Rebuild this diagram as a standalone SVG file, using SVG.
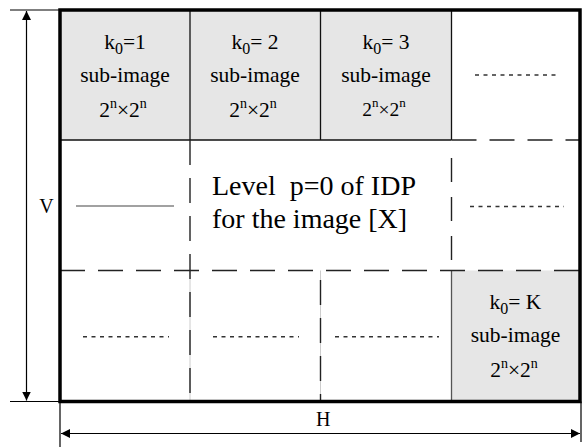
<svg xmlns="http://www.w3.org/2000/svg" width="586" height="447" viewBox="0 0 586 447">
<defs>
<marker id="ah" viewBox="0 0 10 10" refX="10" refY="5" markerWidth="9" markerHeight="9" markerUnits="userSpaceOnUse" orient="auto-start-reverse"><path d="M0,0 L10,5 L0,10 z" fill="#000"/></marker>
</defs>
<style>
.t{font-family:"Liberation Serif","Times New Roman",serif;fill:#000}
.c{font-size:21.5px;text-anchor:middle}
.sub{font-size:16px}
.sup{font-size:14px}
.grey{fill:#e6e6e6;stroke:none}
.solid{stroke:#111;stroke-width:1.3;fill:none}
.dash{stroke:#222;stroke-width:1.4;stroke-dasharray:25 13;fill:none}
.dot{stroke:#333;stroke-width:1.5;stroke-dasharray:4 4.5;fill:none}
.dim{stroke:#000;stroke-width:1.2;fill:none}
</style>
<rect width="586" height="447" fill="#fff"/>
<g id="cell-k1">
<rect class="grey" x="60" y="10" width="130" height="130"/>
<text class="t c" x="125" y="48.5">k<tspan class="sub" dy="5">0</tspan><tspan dy="-5">=1</tspan></text>
<text class="t c" x="125" y="81.7">sub-image</text>
<text class="t c" x="123" y="116.5">2<tspan class="sup" dy="-9">n</tspan><tspan dy="9">×2</tspan><tspan class="sup" dy="-9">n</tspan></text>
</g>
<g id="cell-k2">
<rect class="grey" x="190" y="10" width="130.5" height="130"/>
<text class="t c" x="255" y="48.5">k<tspan class="sub" dy="5">0</tspan><tspan dy="-5">= 2</tspan></text>
<text class="t c" x="255" y="81.7">sub-image</text>
<text class="t c" x="253" y="116.5">2<tspan class="sup" dy="-9">n</tspan><tspan dy="9">×2</tspan><tspan class="sup" dy="-9">n</tspan></text>
</g>
<g id="cell-k3">
<rect class="grey" x="320.5" y="10" width="131" height="130"/>
<text class="t c" x="386" y="48.5">k<tspan class="sub" dy="5">0</tspan><tspan dy="-5">= 3</tspan></text>
<text class="t c" x="386" y="81.7">sub-image</text>
<text class="t c" x="384" y="116" style="font-size:19.5px">2<tspan class="sup" style="font-size:13px" dy="-9">n</tspan><tspan dy="9">×2</tspan><tspan class="sup" style="font-size:13px" dy="-9">n</tspan></text>
</g>
<g id="cell-r1c4">
<path class="dot" d="M475,75 H559"/>
</g>
<g id="cell-r2c1">
<path d="M76,206 H174" stroke="#444" stroke-width="1.2"/>
</g>
<g id="cell-center">
<text class="t" x="212" y="195" style="font-size:28px" xml:space="preserve">Level  p=0 of IDP</text>
<text class="t" x="212" y="228" style="font-size:28px">for the image [X]</text>
</g>
<g id="cell-r2c4">
<path class="dot" d="M470,206.5 H564"/>
</g>
<g id="cell-r3c1">
<path class="dot" d="M83,336.7 H169"/>
</g>
<g id="cell-r3c2">
<path class="dot" d="M213,336.7 H299"/>
</g>
<g id="cell-r3c3">
<path class="dot" d="M335,336.7 H439"/>
</g>
<g id="cell-kK">
<rect class="grey" x="451.5" y="270.5" width="128.5" height="131"/>
<text class="t c" x="515.5" y="308.5">k<tspan class="sub" dy="5">0</tspan><tspan dy="-5">= K</tspan></text>
<text class="t c" x="515.5" y="341.7">sub-image</text>
<text class="t c" x="514" y="376.5">2<tspan class="sup" dy="-9">n</tspan><tspan dy="9">×2</tspan><tspan class="sup" dy="-9">n</tspan></text>
</g>
<g id="grid">
<path class="solid" d="M60,140 H451.5 M190,10 V140 M320.5,10 V140 M451.5,10 V140"/>
<path d="M451.5,270.5 V401.5" stroke="#555" stroke-width="1.3"/>
<path d="M190,270.5 V401.5 M320.5,270.5 V401.5" stroke="#ccc" stroke-width="1"/>
<path class="dash" d="M451.5,140 H580 M60,270.5 H580 M190,140 V401.5 M320.5,280 V401.5"/>
<path class="dash" d="M451.5,158 V270.5" style="stroke-dasharray:24 15"/>
<rect x="60" y="10" width="520" height="391.5" fill="none" stroke="#000" stroke-width="3.5"/>
</g>
<g id="connectors">
<path class="dim" d="M10,10 H60 M10,401.5 H60 M60,401.5 V447 M581,401.5 V442"/>
<path class="dim" d="M26.5,11 V400.5" marker-start="url(#ah)" marker-end="url(#ah)"/>
<path class="dim" d="M61,433.5 H580" marker-start="url(#ah)" marker-end="url(#ah)"/>
</g>
<g id="labels">
<text class="t" x="46.5" y="213" style="font-size:20px;text-anchor:middle">V</text>
<text class="t" x="323.3" y="426" style="font-size:20px;text-anchor:middle">H</text>
</g>
</svg>
